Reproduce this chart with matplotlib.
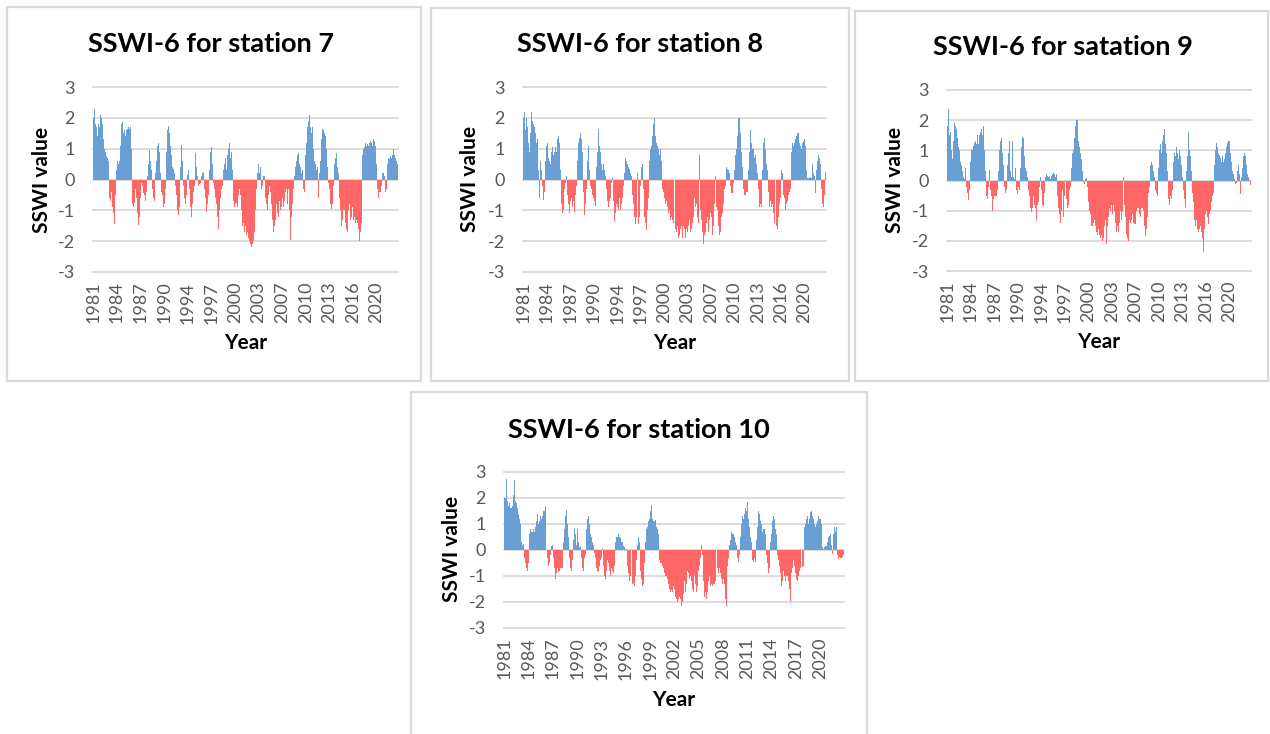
import numpy as np
import matplotlib
matplotlib.use("Agg")
import matplotlib.pyplot as plt
from matplotlib.patches import Rectangle

# ---------------- data (monthly SSWI-6, one row per year 1981..2022) ----------------
years = list(range(1981, 2023))

station7 = [
    [2.0, 2.2, 2.3, 2.45, 1.8, 1.7, 1.6, 1.4, 1.75, 1.8, 1.7, 1.9],
    [2.1, 2.45, 2.0, 1.8, 1.5, 1.3, 1.2, 1.0, 0.9, 0.8, 0.75, 0.7],
    [0.7, 0.6, -0.3, -0.6, -0.7, -0.6, -0.4, -0.7, -0.9, -1.1, -1.3, -1.45],
    [-1.2, -0.5, 0.3, 0.8, 0.6, 0.55, 0.5, 0.6, 0.9, 1.1, 1.4, 1.8],
    [1.85, 1.8, 1.5, 1.7, 1.6, 1.4, 1.75, 1.6, 1.4, 1.65, 1.7, 1.6],
    [1.65, 1.7, 1.5, 1.0, 0.4, -0.8, -0.9, -0.85, -0.75, -0.5, -0.3, -0.6],
    [-0.9, -1.1, -1.3, -1.47, -1.2, -0.9, -0.6, -0.3, -0.1, -0.2, -0.35, -0.45],
    [-0.3, -0.5, -0.7, -0.6, -0.4, -0.2, 0.1, 0.5, 0.85, 0.95, 0.9, 0.6],
    [0.3, 0.1, -0.3, -0.6, -0.8, -0.7, -0.3, 0.2, 0.6, 0.9, 1.1, 1.25],
    [1.2, 0.9, 0.5, 0.2, -0.2, -0.4, -0.5, -0.7, -0.9, -1.02, -0.8, -0.3],
    [0.4, 0.9, 1.3, 1.6, 1.75, 1.7, 1.5, 1.3, 1.1, 0.8, 0.6, 0.4],
    [0.5, 0.35, 0.2, 0.1, -0.2, -0.5, -0.8, -1.0, -1.2, -1.15, -0.9, -0.3],
    [0.4, 0.8, 1.12, 0.6, 0.3, -0.2, -0.4, -0.6, -0.8, -0.7, -0.5, -0.2],
    [0.15, 0.3, 0.25, -0.3, -0.6, -0.9, -1.2, -1.1, -0.8, -0.6, -0.4, -0.2],
    [0.4, 0.85, 0.7, 0.4, 0.1, -0.1, -0.2, -0.15, -0.3, -0.1, 0.05, 0.1],
    [0.2, 0.3, 0.25, 0.1, -0.3, -0.6, -0.9, -1.05, -1.0, -0.8, -0.5, 0.2],
    [0.3, 0.6, 0.9, 1.05, 0.8, 0.5, 0.2, -0.1, -0.3, -0.5, -0.6, -0.4],
    [-0.8, -1.2, -1.45, -1.6, -1.3, -1.0, -0.6, -0.4, -0.3, -0.2, 0.1, 0.3],
    [0.3, 0.5, 0.7, 0.4, 0.3, 0.5, 0.8, 1.0, 1.15, 1.2, 1.0, 0.7],
    [0.9, 0.6, 0.3, -0.5, -0.7, -0.9, -1.0, -0.8, -0.6, -0.75, -0.9, -0.95],
    [-0.5, -0.6, -0.3, -0.5, -0.8, -1.0, -1.2, -1.5, -1.4, -1.6, -1.7, -1.5],
    [-1.6, -1.8, -2.0, -1.7, -1.9, -2.1, -2.0, -1.8, -2.1, -2.2, -2.0, -2.1],
    [-2.25, -2.0, -1.7, -1.3, -1.0, -0.6, -0.3, 0.2, 0.4, 0.5, 0.3, 0.2],
    [0.4, -0.1, -0.3, -0.4, -0.2, 0.1, 0.25, 0.1, -0.3, -0.6, -0.8, -1.0],
    [-1.0, -0.9, -0.5, -0.2, 0.05, -0.4, -0.8, -1.1, -1.3, -1.5, -1.7, -1.5],
    [-1.7, -1.3, -1.0, -0.8, -1.1, -1.3, -1.2, -0.9, -0.7, -1.0, -1.3, -0.9],
    [-0.8, -0.6, -0.9, -1.0, -0.7, -0.5, -0.4, -0.3, -0.6, -0.8, -0.5, -0.3],
    [-1.0, -1.5, -1.96, -1.6, -1.2, -0.8, -0.5, -0.3, 0.1, 0.3, 0.4, 0.5],
    [0.6, 0.8, 0.9, 0.85, 0.7, 0.5, 0.4, 0.3, 0.2, 0.4, 0.3, -0.3],
    [-0.6, -0.4, 0.3, 0.8, 1.2, 1.5, 1.7, 1.8, 1.9, 2.08, 1.9, 1.7],
    [1.8, 1.5, 1.7, 1.3, 1.0, 0.8, 0.6, 0.5, 0.4, 0.3, 0.4, -0.3],
    [-0.6, -0.4, 0.2, 0.6, 0.9, 1.3, 1.5, 1.65, 1.6, 1.4, 1.5, 1.3],
    [1.4, 1.0, 0.7, 0.4, 0.2, -0.1, -0.3, -0.6, -0.8, -0.9, -0.95, -0.8],
    [-0.5, -0.2, 0.3, 0.5, 0.7, 0.8, 0.85, 0.6, 0.4, 0.2, -0.3, -0.6],
    [-1.0, -1.2, -1.5, -1.7, -1.3, -1.0, -0.8, -1.0, -1.2, -1.4, -1.6, -1.9],
    [-1.7, -1.3, -1.0, -0.8, -1.1, -1.3, -1.5, -1.2, -0.9, -1.0, -1.3, -1.5],
    [-1.2, -1.4, -1.6, -1.3, -1.1, -1.4, -1.6, -1.8, -2.0, -2.15, -1.7, -1.4],
    [0.6, 0.8, 1.0, 1.1, 1.05, 1.15, 1.2, 1.1, 1.0, 1.15, 1.2, 1.1],
    [1.2, 1.1, 1.25, 1.3, 1.2, 1.1, 1.0, 1.3, 1.2, 1.25, 1.1, 0.9],
    [0.5, 0.2, -0.3, -0.6, -0.5, -0.4, -0.3, -0.4, -0.2, 0.1, 0.2, 0.15],
    [0.2, 0.1, -0.2, -0.4, -0.3, 0.2, 0.5, 0.6, 0.7, 0.65, 0.7, 0.75],
    [0.6, 0.7, 0.8, 0.85, 1.0, 0.9, 0.8, 0.7, 0.75, 0.6, 0.55, 0.5],
]

station8 = [
    [2.0, 2.5, 2.2, 1.9, 1.6, 2.0, 1.8, 1.7, 1.6, 1.2, 0.9, 1.4],
    [1.5, 1.7, 2.2, 1.9, 1.7, 1.8, 1.6, 1.7, 1.5, 1.3, 1.2, 0.9],
    [1.3, 0.3, -0.3, -0.6, 0.3, 0.6, 0.3, 0.1, -0.2, -0.5, -0.65, -0.4],
    [0.2, 0.6, 0.8, 1.1, 1.2, 0.9, 0.7, 0.75, 0.6, 0.5, 0.7, 0.9],
    [0.9, 1.05, 0.8, 0.6, 0.9, 1.0, 1.05, 0.9, 1.1, 1.3, 1.55, 1.4],
    [1.2, 0.8, 0.3, -0.4, -0.8, -1.1, -1.4, -1.0, -0.6, -0.3, -0.1, 0.2],
    [0.1, -0.3, -0.5, -0.8, -1.0, -1.1, -0.9, -0.7, -0.6, -0.8, -0.9, -0.7],
    [-0.9, -1.05, -0.8, -0.5, -0.2, 0.3, 0.6, 0.9, 1.2, 1.35, 1.45, 1.5],
    [1.5, 1.3, 0.9, 0.4, -0.4, -0.9, -1.15, -0.8, -0.4, -0.3, 0.2, 0.6],
    [1.1, 0.7, 0.3, 0.1, -0.2, -0.3, -0.4, -0.5, -0.5, -0.6, -0.7, -0.8],
    [-0.85, -0.5, 0.4, 0.9, 1.3, 1.65, 1.4, 1.1, 0.9, 0.7, 0.5, 0.4],
    [0.3, 0.5, 0.6, 0.3, 0.2, 0.1, -0.3, -0.5, -0.7, -0.8, -0.9, -0.7],
    [-0.9, -0.6, -0.4, -0.1, 0.05, -0.3, -0.7, -1.0, -1.35, -1.1, -0.9, -0.8],
    [-0.7, -0.9, -1.0, -0.8, -0.6, -0.9, -1.0, -0.8, -0.7, -0.6, -0.4, -0.2],
    [0.2, 0.5, 0.7, 0.65, 0.6, 0.5, 0.55, 0.4, 0.3, 0.35, 0.2, 0.1],
    [0.1, -0.1, -0.5, -0.8, -0.9, -1.2, -1.3, -1.45, -1.2, -0.5, 0.2, 0.5],
    [-1.45, -1.2, -0.7, -0.2, 0.1, 0.4, 0.5, 0.3, -0.3, -0.8, -1.2, -1.4],
    [-1.5, -1.65, -1.3, -1.0, -0.6, 0.3, 0.6, 0.8, 1.0, 1.1, 1.2, 1.4],
    [1.6, 1.8, 2.0, 1.7, 1.4, 1.3, 1.2, 1.1, 1.15, 1.0, 0.9, 0.8],
    [1.0, 0.8, 0.6, 0.4, -0.3, -0.4, -0.5, -0.6, -0.7, -0.8, -0.7, -0.9],
    [-0.9, -1.0, -1.1, -1.0, -1.2, -1.3, -1.4, -1.2, -1.3, -1.5, -1.4, -1.6],
    [-1.4, -1.6, -1.8, -1.7, -1.5, -1.8, -1.9, -2.16, -1.8, -1.6, -1.7, -1.5],
    [-1.7, -1.9, -1.5, -1.3, -1.6, -1.8, -1.9, -1.6, -1.4, -1.7, -1.9, -1.5],
    [-1.3, -1.5, -1.7, -1.9, -1.6, -1.4, -1.0, -1.2, -0.8, -0.6, -0.9, -0.7],
    [-0.8, -1.0, -1.2, -1.4, -1.1, 0.8, 0.4, -1.0, -1.3, -1.5, -1.7, -1.9],
    [-2.09, -1.8, -1.6, -1.7, -1.5, -1.4, -1.2, -1.5, -1.7, -1.6, -1.3, -1.1],
    [-1.0, -1.2, -1.4, -1.8, -1.5, -1.0, -0.8, 0.15, 0.1, -0.9, -1.2, -1.0],
    [-1.2, -1.5, -1.8, -2.1, -1.7, -1.4, -1.2, -1.1, -1.0, -0.8, -0.5, -0.3],
    [-0.2, 0.2, 0.4, 0.5, 0.35, 0.3, 0.4, 0.2, 0.1, -0.2, -0.45, -0.4],
    [-0.45, -0.3, -0.1, 0.3, 0.7, 0.8, 1.2, 1.0, 1.4, 1.7, 2.0, 1.6],
    [2.0, 1.5, 1.2, 0.9, 0.7, 0.4, -0.3, -0.4, -0.5, -0.55, -0.5, -0.4],
    [-0.55, -0.4, -0.2, 0.3, 0.9, 1.3, 1.6, 1.5, 1.2, 1.0, 0.8, 1.0],
    [0.9, 0.7, 0.8, 0.6, 0.5, 0.3, 0.2, -0.3, -0.6, -0.9, -1.05, -0.8],
    [-0.9, -0.5, 0.3, 0.9, 1.2, 1.35, 1.3, 1.0, 0.8, 0.5, 0.3, -0.2],
    [-0.4, -0.8, -0.9, -0.7, -0.6, -0.9, -1.0, -0.8, -1.1, -1.3, -1.4, -1.5],
    [-1.4, -1.5, -1.9, -1.6, -1.2, -1.0, -0.8, -0.7, -0.6, 0.3, 0.45, 0.2],
    [-0.3, -0.5, -0.6, -0.8, -1.0, -0.9, -0.8, -0.7, -0.6, -0.5, -0.6, -0.4],
    [-0.3, 0.5, 0.9, 1.1, 1.2, 1.1, 1.3, 1.2, 1.0, 1.3, 1.4, 1.5],
    [1.5, 1.4, 1.5, 1.2, 1.0, 1.1, 0.9, 1.0, 1.2, 1.3, 1.25, 0.9],
    [1.3, 1.1, 0.6, 0.3, 0.1, 0.05, 0.05, 0.1, 0.05, 0.02, 0.08, 0.05],
    [0.2, 0.5, 0.4, 0.2, 0.1, -0.2, -0.45, -0.2, 0.3, 0.6, 0.7, 0.8],
    [0.9, 0.7, 0.5, 0.2, -0.3, -0.6, -0.8, -0.9, -0.7, -0.5, 0.1, 0.25],
]

station9 = [
    [1.8, 2.0, 2.38, 1.7, 1.5, 1.6, 1.2, 1.0, 0.9, 0.7, 1.3, 1.6],
    [1.9, 2.38, 1.8, 1.7, 1.6, 1.4, 1.2, 1.1, 1.0, 0.9, 0.6, 0.4],
    [0.5, 0.3, 0.15, 0.1, -0.2, 0.05, 0.4, 0.1, -0.2, -0.4, -0.6, -0.65],
    [-0.6, -0.3, 0.6, 0.9, 1.0, 1.1, 1.0, 1.15, 1.2, 1.25, 1.5, 1.3],
    [1.2, 1.0, 1.5, 1.3, 1.2, 1.5, 1.4, 1.6, 1.8, 1.7, 1.5, 1.3],
    [1.8, 1.4, 1.0, 0.3, 0.05, -0.5, -0.75, -0.6, -0.2, 0.1, 0.35, 0.2],
    [-0.3, -0.5, -0.7, -1.0, -0.8, -0.6, -0.5, -0.4, -0.5, -0.6, -0.5, -0.3],
    [-0.2, 0.3, 0.6, 1.0, 1.3, 1.6, 1.4, 1.2, 0.9, 0.5, 0.3, -0.2],
    [-0.4, -0.55, -0.3, 0.1, 0.5, 0.9, 1.2, 1.3, 0.8, 0.3, 0.1, 0.05],
    [1.3, 0.6, 0.1, 0.05, 0.1, 0.4, 0.2, -0.3, -0.45, -0.4, -0.2, 0.3],
    [-0.3, 0.4, 0.8, 1.1, 1.3, 1.45, 1.4, 1.1, 0.8, 0.6, 0.4, 0.3],
    [0.3, 0.1, -0.1, -0.3, -0.5, -0.7, -0.9, -1.0, -1.05, -0.9, -0.7, -0.5],
    [-0.6, -0.8, -0.9, -1.0, -1.3, -1.1, -0.8, -0.7, -0.4, -0.2, 0.05, 0.1],
    [-0.3, -0.6, -0.8, -0.85, -0.6, -0.4, -0.2, 0.1, 0.2, 0.1, 0.15, 0.2],
    [0.1, 0.15, 0.2, 0.05, -0.05, 0.15, 0.2, 0.2, 0.25, 0.3, 0.2, 0.1],
    [0.3, 0.2, -0.1, -0.5, -0.9, -1.25, -1.1, -1.3, -1.4, -1.0, -0.6, -0.3],
    [-1.4, -1.2, -0.5, 0.05, 0.03, -0.3, -0.6, -0.9, -1.1, -0.8, -0.5, -0.3],
    [-0.2, 0.1, 0.4, 0.8, 0.9, 1.0, 1.2, 1.4, 1.6, 1.8, 2.02, 1.7],
    [2.0, 1.5, 1.3, 1.1, 1.0, 0.9, 0.7, 0.5, 0.3, 0.1, -0.05, -0.1],
    [0.15, 0.05, -0.1, 0.08, -0.2, -0.5, -0.7, -0.9, -1.0, -1.1, -1.3, -1.5],
    [-1.3, -1.5, -1.4, -1.2, -1.3, -1.6, -1.5, -1.7, -1.6, -1.8, -1.7, -1.6],
    [-1.8, -1.7, -1.9, -1.6, -1.8, -2.0, -2.1, -1.9, -1.7, -1.5, -1.3, -1.0],
    [-2.1, -1.8, -1.5, -1.2, -1.0, -0.9, -0.8, -1.0, -0.8, -0.9, -1.1, -0.9],
    [-0.8, -1.0, -1.2, -1.4, -1.6, -1.7, -1.5, -1.6, -1.7, -1.4, -1.2, -1.0],
    [-1.1, -1.3, -1.0, -0.5, 0.1, 0.05, -0.8, -1.2, -1.5, -1.8, -2.0, -1.9],
    [-2.0, -1.6, -1.3, -1.2, -1.4, -1.3, -1.2, -1.1, -1.3, -1.4, -1.45, -1.3],
    [-1.45, -1.2, -1.0, -0.9, -0.8, -0.9, -1.0, -1.1, -1.2, -1.0, -0.9, -0.8],
    [-0.9, -1.0, -1.2, -1.5, -1.6, -1.85, -1.6, -1.4, -1.2, -0.8, -0.4, -0.2],
    [0.3, 0.5, 0.55, 0.6, 0.5, 0.45, 0.3, 0.2, 0.1, -0.3, -0.55, -0.4],
    [-0.5, -0.2, 0.4, 0.8, 1.0, 1.2, 1.1, 0.9, 1.0, 1.3, 1.5, 1.6],
    [1.7, 1.85, 1.2, 0.9, 0.6, 0.3, -0.3, -0.6, -0.8, -0.7, -0.5, -0.3],
    [-0.6, -0.3, 0.4, 0.6, 0.8, 0.9, 0.8, 1.0, 1.1, 1.05, 0.9, 0.7],
    [0.8, 1.0, 1.1, 0.8, 0.5, 0.3, 0.1, 0.05, -0.3, -0.6, -1.0, -0.9],
    [-0.8, 0.3, 0.8, 1.2, 1.6, 1.3, 1.0, 0.8, 0.5, 0.3, 0.1, -0.4],
    [-0.7, -1.0, -1.3, -1.5, -1.4, -1.3, -1.5, -1.6, -1.7, -1.8, -1.6, -1.5],
    [-1.5, -1.7, -1.8, -1.9, -2.1, -2.38, -1.6, -1.3, -1.1, -0.9, -1.0, -1.2],
    [-1.3, -1.45, -1.3, -1.1, -1.0, -0.8, -0.7, -0.6, -0.5, -0.4, -0.3, 0.5],
    [0.8, 1.0, 1.25, 1.2, 1.1, 1.0, 0.9, 0.85, 0.8, 0.75, 0.7, 0.6],
    [0.8, 0.75, 0.6, 0.5, 0.7, 0.9, 1.0, 1.1, 1.2, 1.25, 1.3, 1.2],
    [1.3, 1.1, 0.9, 0.6, 0.4, 0.3, 0.2, 0.1, 0.05, -0.05, -0.1, -0.08],
    [-0.05, 0.3, 0.55, 0.5, 0.2, -0.2, -0.45, -0.3, 0.1, 0.4, 0.6, 0.8],
    [1.0, 0.9, 0.8, 0.7, 0.5, 0.3, 0.2, 0.1, 0.05, 0.03, -0.1, -0.15],
]

station10 = [
    [2.0, 2.2, 2.0, 2.75, 2.4, 1.9, 1.7, 2.0, 1.8, 1.6, 1.5, 1.6],
    [1.7, 1.5, 2.1, 2.7, 2.15, 1.9, 1.8, 1.7, 1.6, 1.4, 1.2, 1.0],
    [1.0, 0.3, -0.3, 0.2, 0.25, -0.1, -0.3, -0.5, -0.6, -0.7, -0.8, -0.7],
    [-0.5, 0.6, 0.9, 0.8, 0.7, 0.75, 0.7, 0.8, 0.75, 0.7, 0.9, 1.2],
    [1.1, 1.4, 1.2, 1.0, 1.1, 1.4, 1.3, 1.2, 1.1, 1.3, 1.5, 1.7],
    [1.5, 1.7, 1.1, 0.5, -0.3, -0.6, -0.8, -0.5, -0.2, 0.05, 0.15, 0.2],
    [0.1, -0.3, -0.7, -0.9, -1.1, -0.9, -0.8, -0.7, -0.85, -0.9, -0.8, -0.7],
    [-0.6, -0.7, -0.7, -0.3, 0.3, 0.8, 1.1, 1.3, 1.55, 1.4, 1.0, 0.5],
    [0.2, -0.3, -0.7, -0.95, -0.8, -0.4, 0.1, 0.4, 0.85, 0.6, 0.4, 0.2],
    [0.8, 0.5, 0.3, 0.1, 0.05, 0.1, -0.3, -0.5, -0.7, -0.8, -0.6, -0.3],
    [-0.2, 0.3, 0.8, 1.2, 1.45, 1.3, 1.0, 0.8, 0.6, 0.5, 0.4, 0.3],
    [0.2, 0.1, -0.1, -0.3, -0.5, -0.7, -0.8, -0.9, -0.85, -0.6, -0.5, -0.4],
    [-0.3, 0.05, 0.03, -0.6, -1.0, -1.3, -1.1, -0.8, -0.6, -0.4, -0.5, -0.7],
    [-0.8, -1.0, -0.9, -0.7, -0.8, -1.05, -0.9, -0.6, -0.3, 0.3, 0.5, 0.55],
    [0.5, 0.6, 0.55, 0.5, 0.45, 0.4, 0.3, 0.3, 0.2, 0.15, 0.1, 0.05],
    [0.05, 0.02, -0.3, -0.6, -0.9, -1.1, -1.2, -1.0, -1.1, -1.2, -1.3, -1.25],
    [-1.35, -1.4, -1.0, -0.8, -0.4, 0.2, 0.3, 0.5, 0.3, -0.4, -0.8, -1.1],
    [-1.2, -1.4, -1.3, -1.0, -0.5, 0.3, 0.6, 0.8, 0.9, 1.0, 1.1, 1.2],
    [1.3, 1.5, 1.75, 1.4, 1.2, 1.1, 1.0, 1.1, 1.15, 1.0, 0.9, 0.8],
    [0.7, 0.6, -0.4, -0.5, -0.3, -0.5, -0.6, -0.8, -0.7, -0.9, -0.8, -1.0],
    [-1.0, -0.9, -1.1, -1.3, -1.2, -1.5, -1.6, -1.4, -1.55, -1.6, -1.5, -1.4],
    [-1.5, -1.7, -1.8, -1.9, -2.1, -2.0, -1.9, -2.0, -1.8, -1.9, -2.1, -2.15],
    [-2.0, -2.17, -1.7, -1.2, -1.5, -1.6, -1.3, -1.0, -0.8, -0.9, -1.1, -1.3],
    [-1.0, -1.2, -1.4, -1.5, -1.6, -1.3, -1.0, -1.3, -1.5, -1.6, -1.4, -1.1],
    [-0.8, -0.6, -0.5, -0.3, 0.2, 0.55, -0.2, -1.2, -1.5, -1.8, -1.6, -2.0],
    [-1.9, -1.6, -1.4, -1.2, -1.0, -1.2, -1.4, -1.3, -1.45, -1.4, -1.3, -1.2],
    [-1.3, -1.2, -1.0, -0.8, -0.7, -0.9, -0.8, -0.7, -0.9, -1.0, -1.1, -1.3],
    [-0.9, -1.1, -1.3, -1.6, -1.9, -2.17, -1.0, -0.6, -0.3, -0.1, 0.2, 0.4],
    [0.5, 0.7, 0.6, 0.5, 0.6, 0.5, 0.4, 0.3, 0.2, 0.1, -0.3, -0.45],
    [-0.4, -0.2, 0.5, 0.8, 1.0, 1.3, 1.35, 1.2, 1.4, 1.6, 1.85, 1.5],
    [1.85, 1.3, 1.2, 0.9, 0.8, 0.5, 0.3, -0.2, -0.4, -0.45, -0.4, -0.3],
    [-0.45, -0.2, 0.4, 0.9, 1.1, 1.5, 1.4, 1.3, 1.1, 1.0, 0.8, 0.7],
    [0.8, 0.9, 0.8, 0.6, 0.3, -0.2, -0.5, -0.8, -0.9, -0.7, -0.4, 0.3],
    [0.6, 0.9, 1.1, 1.3, 1.2, 1.0, 0.8, 0.6, 0.3, -0.2, -0.4, -0.5],
    [-0.6, -0.9, -1.2, -1.4, -1.2, -1.0, -0.8, -1.0, -1.1, -1.2, -1.0, -0.9],
    [-1.0, -1.2, -1.3, -1.5, -1.95, -1.4, -0.9, -0.7, -0.5, -0.4, -0.6, -0.8],
    [-0.9, -1.1, -1.3, -1.2, -1.0, -0.9, -0.8, -0.7, -0.7, -0.6, -0.65, -0.6],
    [0.7, 0.9, 1.0, 1.1, 1.2, 1.3, 1.1, 1.0, 1.2, 1.3, 1.45, 1.5],
    [1.45, 1.3, 1.2, 1.4, 1.0, 0.9, 0.8, 1.0, 1.1, 1.2, 1.3, 1.2],
    [1.3, 1.2, 1.0, 0.3, 0.1, 0.05, -0.15, 0.1, 0.15, 0.2, 0.15, 0.3],
    [0.4, 0.5, 0.55, 0.6, 0.4, 0.2, -0.15, 0.3, 0.6, 0.9, 0.8, 0.7],
    [0.9, 0.6, -0.2, -0.35, -0.3, -0.25, -0.3, -0.35, -0.3, -0.25, -0.3, -0.2],
]

titles = ["SSWI-6 for station 7", "SSWI-6 for station 8",
          "SSWI-6 for satation 9", "SSWI-6 for station 10"]
y_label = "SSWI value"
x_label = "Year"
label_steps = [39, 39, 39, 36]   # category interval between year labels

# ---------------- styling / layout ----------------
W, H = 1270, 734
BLUE = "#6A9FD6"
RED = "#FF6666"
GRID = "#D9D9D9"
TICKC = "#595959"
FONT = "Lato"

fig = plt.figure(figsize=(W / 100, H / 100), dpi=100)
fig.patch.set_facecolor("white")


def fx(x):
    return x / W


def fy(y):
    return 1 - y / H


# frame (l, t, r, b), plot (l, top(+3), r, bottom(-3)), title xy, ylabel xy, xlabel xy
layouts = [
    dict(frame=(7, 7, 421, 381), plot=(93, 87, 398, 272),
         title=(211, 44), ylab=(42, 180), xlab=(246, 343)),
    dict(frame=(431, 8, 849, 381), plot=(523, 87, 826, 272),
         title=(640, 44), ylab=(470, 179), xlab=(675, 343)),
    dict(frame=(855, 11, 1268, 381), plot=(947, 90, 1251, 271),
         title=(1063, 47), ylab=(895, 180), xlab=(1099, 342)),
    dict(frame=(411, 392, 867, 760), plot=(504, 472, 844, 628),
         title=(639, 430), ylab=(452, 549), xlab=(674, 700)),
]

stations = [station7, station8, station9, station10]
month_years = np.repeat(years, 12)

for st, lay, title, step in zip(stations, layouts, titles, label_steps):
    vals = np.array(st, dtype=float).ravel()
    n = len(vals)
    idx = np.arange(n)

    l, t, r, b = lay["frame"]
    fig.patches.append(Rectangle((fx(l), fy(b)), fx(r - l), fy(t) - fy(b),
                                 transform=fig.transFigure, fill=False,
                                 edgecolor=GRID, linewidth=1.6, clip_on=False))

    pl, pt, pr, pb = lay["plot"]
    ax = fig.add_axes([fx(pl), fy(pb), fx(pr - pl), fy(pt) - fy(pb)])
    colors = np.where(vals >= 0, BLUE, RED)
    ax.bar(idx, vals, width=1.0, color=colors, linewidth=0, zorder=2)
    ax.set_xlim(-0.5, n - 0.5)
    ax.set_ylim(-3, 3)
    ax.set_yticks(range(-3, 4))
    ax.set_yticklabels([str(v) for v in range(-3, 4)])
    ax.grid(axis="y", color=GRID, linewidth=1.3, zorder=0)
    ax.set_axisbelow(True)
    for gl in ax.get_ygridlines():
        gl.set_clip_on(False)
    for s in ax.spines.values():
        s.set_visible(False)
    tpos = idx[::step]
    ax.set_xticks(tpos)
    ax.set_xticklabels([str(month_years[p]) for p in tpos], rotation=90)
    ax.tick_params(axis="both", length=0, colors=TICKC, labelsize=13)
    ax.tick_params(axis="y", pad=13)
    ax.tick_params(axis="x", pad=7)
    for lab in ax.get_xticklabels() + ax.get_yticklabels():
        lab.set_fontfamily(FONT)
    ax.set_facecolor("none")

    tx, ty = lay["title"]
    fig.text(fx(tx), fy(ty), title, ha="center", va="center",
             fontsize=19.5, fontweight="bold", family=FONT, color="black")
    yx, yy = lay["ylab"]
    fig.text(fx(yx), fy(yy), y_label, ha="center", va="center", rotation=90,
             fontsize=15, fontweight="bold", family=FONT, color="black")
    xx, xy = lay["xlab"]
    fig.text(fx(xx), fy(xy), x_label, ha="center", va="center",
             fontsize=15, fontweight="bold", family=FONT, color="black")

fig.savefig("out.png", dpi=100, facecolor="white")
